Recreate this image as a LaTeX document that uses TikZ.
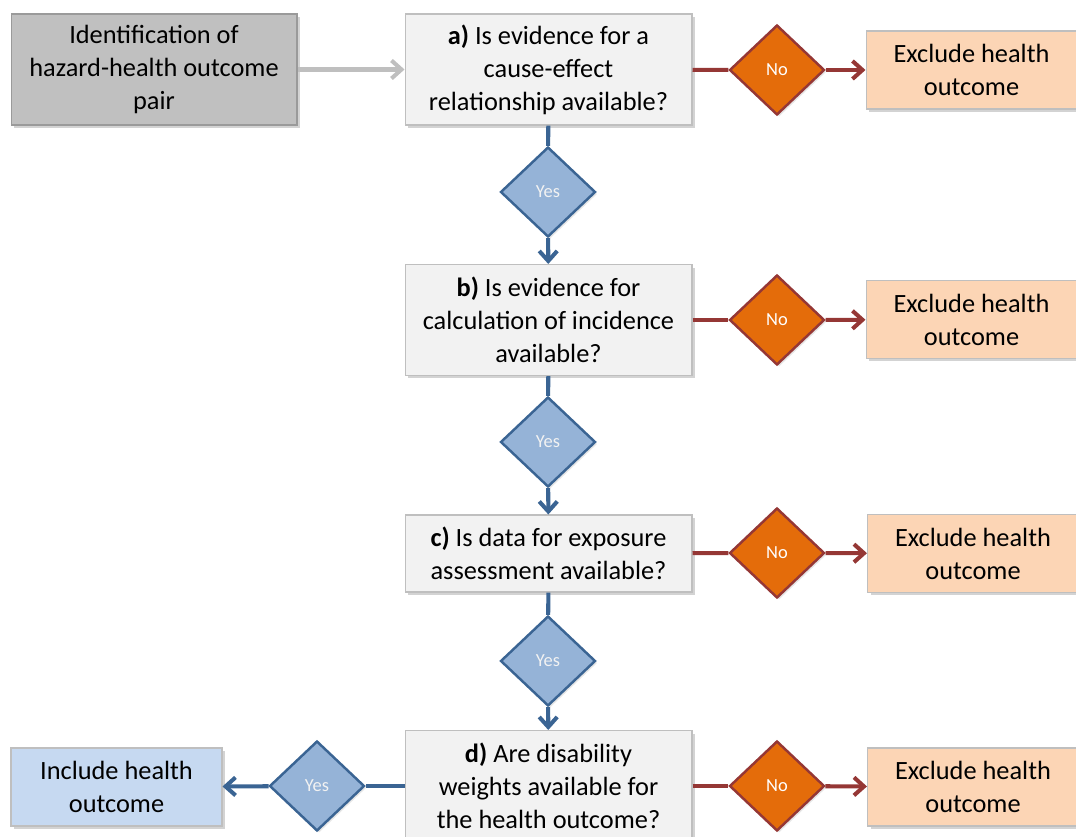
\documentclass[tikz,border=0pt]{standalone}
\usepackage{fontspec}
\setmainfont{Carlito}
\usetikzlibrary{arrows.meta}
\usetikzlibrary{positioning}
\usetikzlibrary{shapes.geometric}
\usetikzlibrary{shadows}
\definecolor{srcfill}{HTML}{C0C0C0}
\definecolor{srcedge}{HTML}{9A9A9A}
\definecolor{questfill}{HTML}{F2F2F2}
\definecolor{questedge}{HTML}{BFBFBF}
\definecolor{exclfill}{HTML}{FCD5B5}
\definecolor{inclfill}{HTML}{C6D9F1}
\definecolor{noorange}{HTML}{E46C0A}
\definecolor{nored}{HTML}{953735}
\definecolor{yesfill}{HTML}{95B3D7}
\definecolor{yesblue}{HTML}{3A6493}
\definecolor{arrowgray}{HTML}{BFBFBF}

\begin{document}
\begin{tikzpicture}[
        x=0.02cm, y=-0.02cm,
        font=\fontsize{15}{18.8}\selectfont,
        box/.style={draw=questedge, line width=0.6pt, align=center, inner sep=0pt,
            minimum width=5.74cm, minimum height=2.22cm,
            drop shadow={shadow xshift=0.06cm, shadow yshift=-0.06cm, opacity=0.35}},
        question/.style={box, fill=questfill},
        result/.style={box, minimum width=4.22cm, minimum height=1.56cm},
        decision/.style={diamond, line width=1.4pt, inner sep=0pt, aspect=1.05,
            minimum width=1.9cm, minimum height=1.8cm, font=\fontsize{10.5}{12}\selectfont,
            drop shadow={shadow xshift=0.04cm, shadow yshift=-0.04cm, opacity=0.2}},
        nodiamond/.style={decision, draw=nored, fill=noorange, text=white},
        yesdiamond/.style={decision, draw=yesblue, fill=yesfill, text=questfill},
        nolink/.style={draw=nored, line width=2.3pt},
        yeslink/.style={draw=yesblue, line width=2.3pt},
        graylink/.style={draw=arrowgray, line width=2.3pt},
        tip/.style={-{Straight Barb[length=2mm, width=3.6mm]}},
    ]
    \useasboundingbox (0,0) rectangle (1076,837);

    \node[box, fill=srcfill, draw=srcedge, minimum width=5.72cm] (src) at (154,69.5)
        {Identification of\\hazard-health outcome\\pair};

    \node[question] (qa) at (548.5,69.5) {\textbf{a)} Is evidence for a\\cause-effect\\relationship available?};
    \node[question] (qb) at (548.5,320) {\textbf{b)} Is evidence for\\calculation of incidence\\available?};
    \node[question, minimum height=1.54cm] (qc) at (548.5,553.5) {\textbf{c)} Is data for exposure\\assessment available?};
    \node[question] (qd) at (548.5,786) {\textbf{d)} Are disability\\weights available for\\the health outcome?};

    \node[nodiamond] (noa) at (777,70) {No};
    \node[nodiamond] (nob) at (777,320) {No};
    \node[nodiamond] (noc) at (777,553) {No};
    \node[nodiamond] (nod) at (777,786) {No};

    \node[result, fill=exclfill] (exa) at (971.5,70) {Exclude health\\outcome};
    \node[result, fill=exclfill] (exb) at (971.5,319.5) {Exclude health\\outcome};
    \node[result, fill=exclfill] (exc) at (973,553.5) {Exclude health\\outcome};
    \node[result, fill=exclfill] (exd) at (973,787) {Exclude health\\outcome};

    \node[yesdiamond] (yesa) at (548,192) {Yes};
    \node[yesdiamond] (yesb) at (548,442) {Yes};
    \node[yesdiamond] (yesc) at (548,661) {Yes};
    \node[yesdiamond] (yesd) at (317,786) {Yes};

    \node[result, fill=inclfill] (incl) at (116.5,787) {Include health\\outcome};

    \draw[graylink, tip] (src) -- (qa);

    \draw[nolink] (qa) -- (noa);
    \draw[nolink, tip] (noa) -- (exa);
    \draw[nolink] (qb) -- (nob);
    \draw[nolink, tip] (nob) -- (exb);
    \draw[nolink] (qc) -- (noc);
    \draw[nolink, tip] (noc) -- (exc);
    \draw[nolink] (qd) -- (nod);
    \draw[nolink, tip] (nod) -- (exd);

    \draw[yeslink] (qa) -- (yesa);
    \draw[yeslink, tip] (yesa) -- (qb);
    \draw[yeslink] (qb) -- (yesb);
    \draw[yeslink, tip] (yesb) -- (qc);
    \draw[yeslink] (qc) -- (yesc);
    \draw[yeslink, tip] (yesc) -- (qd);
    \draw[yeslink] (qd) -- (yesd);
    \draw[yeslink, tip] (yesd) -- (incl);
\end{tikzpicture}
\end{document}
